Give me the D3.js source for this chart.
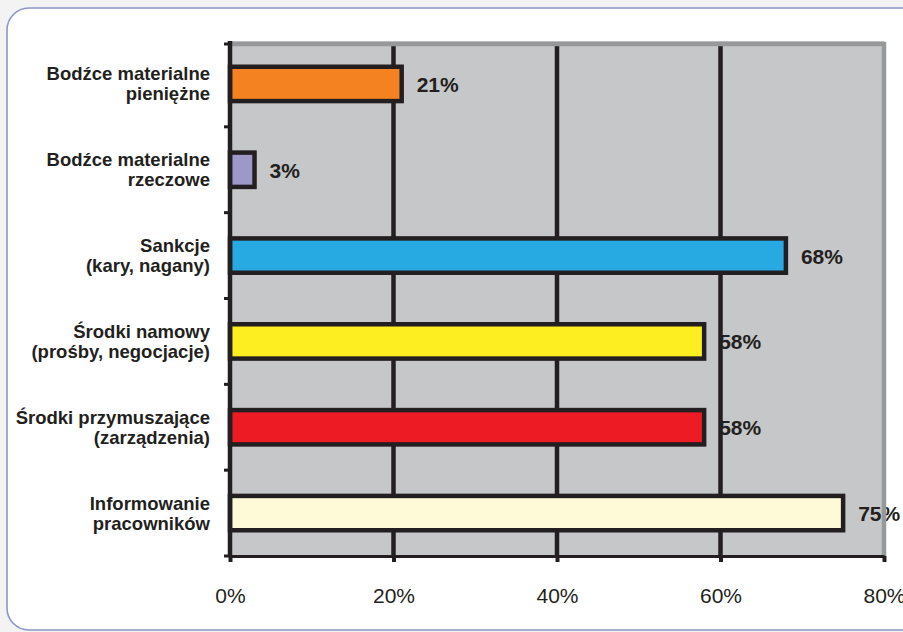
<!DOCTYPE html>
<html>
<head>
<meta charset="utf-8">
<script src="https://cdn.jsdelivr.net/npm/d3@7"></script>
<style>
  html, body { margin: 0; padding: 0; background: #f3f3f3; }
  svg { display: block; }
</style>
</head>
<body>
<svg id="chart" width="903" height="632"></svg>
<script>
// ---- Data ----
const categories = [
  ["Bodźce materialne", "pieniężne"],
  ["Bodźce materialne", "rzeczowe"],
  ["Sankcje", "(kary, nagany)"],
  ["Środki namowy", "(prośby, negocjacje)"],
  ["Środki przymuszające", "(zarządzenia)"],
  ["Informowanie", "pracowników"]
];
const values = [21, 3, 68, 58, 58, 75];
const barColors = ["#f58220", "#9e98c9", "#27aae1", "#fdee21", "#ed1c24", "#fef9d7"];
const tickValues = [0, 20, 40, 60, 80];
const tickLabels = ["0%", "20%", "40%", "60%", "80%"];

// ---- Layout ----
const svg = d3.select("#chart");
const pLeft = 230, pRight = 884, pTop = 41, pBottom = 556;
const ink = "#231f20";

const x = d3.scaleLinear().domain([0, 80]).range([pLeft, pRight]);
const y = d3.scaleBand().domain(d3.range(categories.length)).range([pTop, pBottom]).paddingInner(0).paddingOuter(0);
const barH = y.bandwidth() * 0.4;

// Card
svg.append("rect")
  .attr("x", 7).attr("y", 8).attr("width", 930).attr("height", 622)
  .attr("rx", 22).attr("ry", 22)
  .attr("fill", "#ffffff").attr("stroke", "#8c96c8").attr("stroke-width", 1.6);

// Plot background
svg.append("rect")
  .attr("x", pLeft).attr("y", pTop).attr("width", pRight - pLeft).attr("height", pBottom - pTop)
  .attr("fill", "#c6c7c9");

// Value labels (drawn under gridlines, as in the reference)
svg.append("g").selectAll("text").data(values).join("text")
  .attr("x", d => x(d) + 15)
  .attr("y", (d, i) => y(i) + y.bandwidth() / 2 + 8)
  .attr("font-family", "'Liberation Sans', Arial, sans-serif")
  .attr("font-weight", "bold").attr("font-size", 21).attr("fill", ink)
  .text(d => d + "%");

// Gridlines
svg.append("g").selectAll("line").data(tickValues.filter(v => v > 0 && v < 80)).join("line")
  .attr("x1", d => x(d)).attr("x2", d => x(d))
  .attr("y1", pTop + 3).attr("y2", pBottom)
  .attr("stroke", ink).attr("stroke-width", 4.5);

// Top & right gray border
svg.append("path")
  .attr("d", `M${pLeft},${pTop + 3}H${pRight}V${pBottom}`)
  .attr("fill", "none").attr("stroke", "#97989a").attr("stroke-width", 4.5);

// Bars
svg.append("g").selectAll("rect").data(values).join("rect")
  .attr("x", x(0))
  .attr("y", (d, i) => y(i) + (y.bandwidth() - barH) / 2)
  .attr("width", d => x(d) - x(0))
  .attr("height", barH)
  .attr("fill", (d, i) => barColors[i])
  .attr("stroke", ink).attr("stroke-width", 4.5);

// Left axis line + boundary ticks
svg.append("line")
  .attr("x1", pLeft).attr("x2", pLeft).attr("y1", pTop).attr("y2", pBottom + 1)
  .attr("stroke", ink).attr("stroke-width", 4.5);
const bounds = d3.range(categories.length + 1).map(i => pTop + y.step() * i);
svg.append("g").selectAll("line").data(bounds).join("line")
  .attr("x1", pLeft - 6).attr("x2", pLeft)
  .attr("y1", (d, i) => i === 0 ? d + 3 : d).attr("y2", (d, i) => i === 0 ? d + 3 : d)
  .attr("stroke", ink).attr("stroke-width", 3);

// Bottom axis
const xAxis = d3.axisBottom(x).tickValues(tickValues)
  .tickFormat((d, i) => tickLabels[i]).tickSizeInner(6).tickSizeOuter(0);
const gx = svg.append("g").attr("transform", `translate(0,${pBottom})`).call(xAxis);
gx.select(".domain").attr("stroke", ink).attr("stroke-width", 3);
gx.selectAll(".tick line").attr("stroke", ink).attr("stroke-width", 4);
gx.selectAll(".tick text")
  .attr("y", 47).attr("dy", 0)
  .attr("font-family", "'Liberation Sans', Arial, sans-serif")
  .attr("font-size", 21).attr("fill", ink);

// Category labels
const catG = svg.append("g")
  .attr("font-family", "'Liberation Sans', Arial, sans-serif")
  .attr("font-weight", "bold").attr("font-size", 18.5).attr("fill", ink)
  .attr("text-anchor", "end");
categories.forEach((lines, i) => {
  const c = y(i) + y.bandwidth() / 2;
  catG.append("text").attr("x", 210).attr("y", c - 3.5).text(lines[0]);
  catG.append("text").attr("x", 210).attr("y", c + 16.5).text(lines[1]);
});
</script>
</body>
</html>
